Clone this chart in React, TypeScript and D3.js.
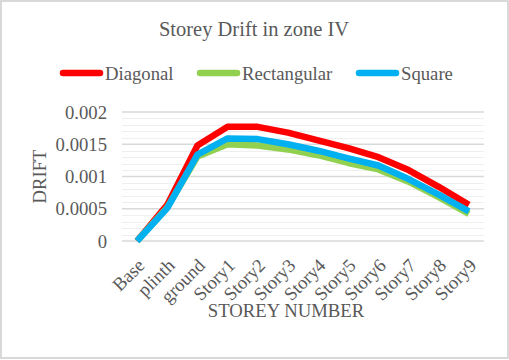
import React, { useRef, useEffect } from 'react';
import * as d3 from 'd3';

const categories: string[] = ['Base', 'plinth', 'ground', 'Story1', 'Story2', 'Story3', 'Story4', 'Story5', 'Story6', 'Story7', 'Story8', 'Story9'];

const diagonal: number[] = [0, 0.00056, 0.00148, 0.00177, 0.00177, 0.00168, 0.00156, 0.00144, 0.00130, 0.00110, 0.00084, 0.00056];
const rectangular: number[] = [0, 0.00052, 0.00131, 0.00150, 0.00148, 0.00142, 0.00133, 0.00121, 0.00111, 0.00092, 0.00068, 0.00042];
const square: number[] = [0, 0.00051, 0.00134, 0.00159, 0.00158, 0.00150, 0.00140, 0.00128, 0.00117, 0.00096, 0.00072, 0.00046];

const yTicks: number[] = [0, 0.0005, 0.001, 0.0015, 0.002];
const yTickLabels: string[] = ['0', '0.0005', '0.001', '0.0015', '0.002'];

interface Series {
    name: string;
    color: string;
    values: number[];
}

const series: Series[] = [
    { name: 'Diagonal', color: '#FF0000', values: diagonal },
    { name: 'Rectangular', color: '#92D050', values: rectangular },
    { name: 'Square', color: '#00B0F0', values: square }
];

const W = 509;
const H = 360;
const FONT = '"Liberation Serif", "Times New Roman", serif';
const TEXT = '#595959';

const App: React.FC = () => {
    const svgRef = useRef<SVGSVGElement | null>(null);

    useEffect(() => {
        document.body.style.margin = '0';
        const svg = d3.select(svgRef.current);
        svg.selectAll('*').remove();

        const plot = { left: 122, right: 484, top: 112, bottom: 241 };

        const x = d3.scaleBand<string>()
            .domain(categories)
            .range([plot.left, plot.right]);

        const y = d3.scaleLinear()
            .domain([0, 0.002])
            .range([plot.bottom, plot.top]);

        // chart border
        svg.append('rect')
            .attr('x', 1).attr('y', 1)
            .attr('width', W - 2).attr('height', H - 3)
            .attr('fill', '#fff')
            .attr('stroke', '#d9d9d9')
            .attr('stroke-width', 2);

        // minor gridlines
        const minor = d3.range(0, 21).map(i => i * 0.0001).filter(v => Math.round(v * 1e5) % 50 !== 0);
        svg.append('g').selectAll('line')
            .data(minor)
            .enter().append('line')
            .attr('x1', plot.left).attr('x2', plot.right)
            .attr('y1', d => Math.round(y(d)) + 0.5)
            .attr('y2', d => Math.round(y(d)) + 0.5)
            .attr('stroke', '#efefef')
            .attr('stroke-width', 1);

        // major gridlines
        svg.append('g').selectAll('line')
            .data(yTicks)
            .enter().append('line')
            .attr('x1', plot.left).attr('x2', plot.right)
            .attr('y1', d => y(d))
            .attr('y2', d => y(d))
            .attr('stroke', '#d9d9d9')
            .attr('stroke-width', 1.5);

        // y tick labels
        svg.append('g').selectAll('text')
            .data(yTicks)
            .enter().append('text')
            .attr('x', 107)
            .attr('y', d => y(d))
            .attr('dy', '0.35em')
            .attr('text-anchor', 'end')
            .attr('font-family', FONT)
            .attr('font-size', 18.7)
            .attr('fill', TEXT)
            .text((d, i) => yTickLabels[i]);

        // x tick labels
        svg.append('g').selectAll('text')
            .data(categories)
            .enter().append('text')
            .attr('transform', d => `translate(${(x(d) as number) + x.bandwidth() / 2 + 4},${plot.bottom + 21}) rotate(-45)`)
            .attr('text-anchor', 'end')
            .attr('dy', '0.35em')
            .attr('font-family', FONT)
            .attr('font-size', 18.7)
            .attr('fill', TEXT)
            .text(d => d);

        // lines
        const line = d3.line<number>()
            .x((d, i) => (x(categories[i]) as number) + x.bandwidth() / 2)
            .y(d => y(d));

        series.forEach(s => {
            svg.append('path')
                .datum(s.values)
                .attr('d', line)
                .attr('fill', 'none')
                .attr('stroke', s.color)
                .attr('stroke-width', 6.5)
                .attr('stroke-linejoin', 'round')
                .attr('stroke-linecap', 'butt');
        });

        // title
        svg.append('text')
            .attr('x', 254)
            .attr('y', 36)
            .attr('text-anchor', 'middle')
            .attr('font-family', FONT)
            .attr('font-size', 20.5)
            .attr('fill', TEXT)
            .text('Storey Drift in zone IV');

        // legend
        const legendX = [60, 197, 356];
        const legend = svg.append('g');
        series.forEach((s, i) => {
            legend.append('line')
                .attr('x1', legendX[i] + 3).attr('x2', legendX[i] + 40)
                .attr('y1', 73).attr('y2', 73)
                .attr('stroke', s.color)
                .attr('stroke-width', 6.5)
                .attr('stroke-linecap', 'round');
            legend.append('text')
                .attr('x', legendX[i] + 45)
                .attr('y', 73)
                .attr('dy', '0.35em')
                .attr('font-family', FONT)
                .attr('font-size', 18.7)
                .attr('fill', TEXT)
                .text(s.name);
        });

        // axis titles
        svg.append('text')
            .attr('transform', `translate(46,${(plot.top + plot.bottom) / 2}) rotate(-90)`)
            .attr('text-anchor', 'middle')
            .attr('font-family', FONT)
            .attr('font-size', 18.7)
            .attr('fill', TEXT)
            .text('DRIFT');

        svg.append('text')
            .attr('x', 286)
            .attr('y', 317)
            .attr('text-anchor', 'middle')
            .attr('font-family', FONT)
            .attr('font-size', 18.7)
            .attr('fill', TEXT)
            .text('STOREY NUMBER');
    }, []);

    return (
        <svg ref={svgRef} width={W} height={H} style={{ display: 'block' }}></svg>
    );
};

export default App;
